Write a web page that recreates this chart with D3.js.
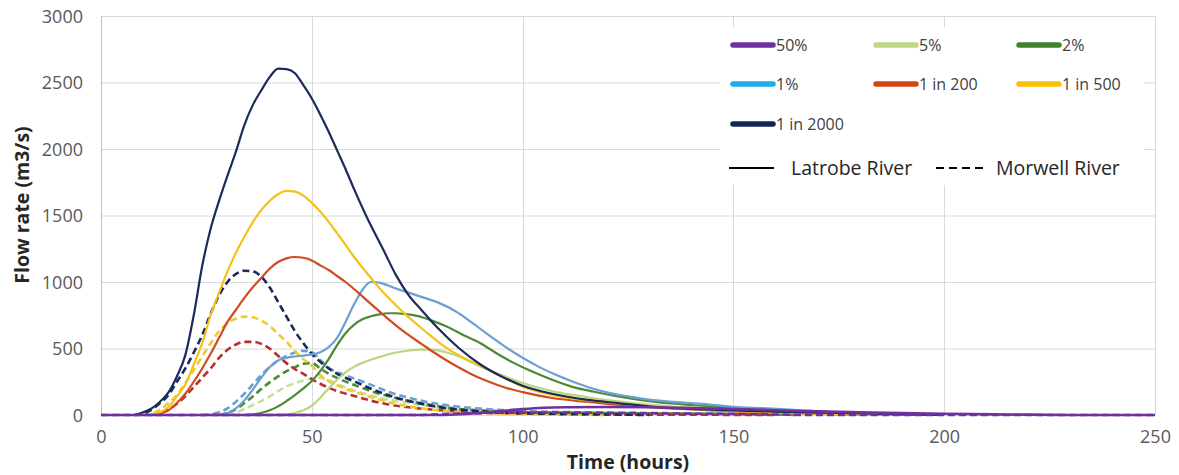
<!DOCTYPE html>
<html>
<head>
<meta charset="utf-8">
<script src="https://cdn.jsdelivr.net/npm/d3@7"></script>
<style>
  html, body { margin: 0; padding: 0; background: #ffffff; }
  svg { display: block; font-family: "Open Sans", "Noto Sans", sans-serif; }
</style>
</head>
<body>
<svg id="chart" width="1179" height="475"></svg>
<script>
// ---------- DATA ----------
const seriesLabels = ["50%", "5%", "2%", "1%", "1 in 200", "1 in 500", "1 in 2000"];
const legendColors = ["#7030a0", "#bcd98a", "#418030", "#1eaee6", "#d24514", "#f7c100", "#142458"];
const latrobeColors = ["#7030a0", "#b9d77f", "#4c8a36", "#6c9fd2", "#cf4c22", "#f3c21b", "#1b2a5c"];
const morwellColors = ["#7030a0", "#c6e09a", "#4c8a36", "#6c9fd2", "#b5302e", "#f3c833", "#1b2a5c"];
const xTicks = [0, 50, 100, 150, 200, 250];
const yTicks = [0, 500, 1000, 1500, 2000, 2500, 3000];
const riverLabels = ["Latrobe River", "Morwell River"];

// Latrobe River hydrographs [time (h), flow (m3/s)]
const lat50 = [[0,0],[80,0],[85,6],[90,15],[95,30],[100,44],[105,54],[110,58],[120,60],[130,58],[140,52],[150,45],[160,36],[170,27],[180,20],[190,14],[200,9],[215,4],[230,0],[250,0]];
const lat5 = [[40,0],[44,5],[46,15],[48,35],[50,70],[52,130],[54,200],[56,265],[58,320],[60,362],[62,392],[64,415],[66,435],[68,455],[70,470],[73,485],[76,492],[79,490],[82,470],[85,440],[88,395],[91,350],[95,300],[100,240],[107,180],[115,135],[123,100],[131,75],[140,55],[150,38],[160,25],[170,14],[180,5],[190,0]];
const lat2 = [[34,0],[36,5],[38,15],[40,35],[42,65],[44,105],[46,150],[48,200],[50,255],[52,330],[54,420],[56,525],[58,615],[60,678],[62,720],[64,742],[66,756],[68,765],[70,765],[72,760],[75,745],[78,715],[82,665],[86,600],[90,540],[94,460],[98,390],[102,330],[107,265],[112,210],[117,175],[123,138],[131,100],[140,75],[150,55],[160,38],[170,22],[180,12],[190,5],[200,0]];
const lat1 = [[26,0],[28,5],[30,15],[32,50],[34,110],[36,190],[38,280],[40,360],[42,410],[44,430],[46,440],[48,447],[50,456],[52,472],[54,510],[56,580],[58,700],[60,830],[62,940],[64,1000],[66,995],[68,975],[70,950],[73,920],[76,888],[80,845],[84,782],[88,695],[92,600],[96,510],[100,430],[104,360],[108,300],[112,250],[116,205],[120,170],[125,140],[130,115],[135,100],[142,85],[150,62],[158,50],[166,35],[175,20],[185,10],[195,0]];
const lat200 = [[12,0],[14,10],[16,35],[18,90],[20,160],[22,250],[24,350],[26,460],[28,580],[30,700],[32,790],[34,880],[36,960],[38,1030],[40,1100],[42,1150],[44,1178],[46,1188],[48,1182],[50,1162],[52,1125],[54,1090],[56,1045],[58,1000],[61,920],[64,835],[67,752],[70,672],[73,600],[76,535],[79,470],[82,410],[85,355],[88,305],[92,250],[96,205],[100,172],[107,128],[115,100],[125,70],[135,50],[145,35],[155,22],[165,12],[175,5],[185,0]];
const lat500 = [[12,0],[14,20],[16,60],[18,140],[20,230],[22,380],[24,540],[26,750],[28,920],[30,1080],[32,1220],[34,1340],[36,1450],[38,1540],[40,1610],[42,1660],[44,1685],[46,1680],[48,1650],[50,1595],[52,1530],[55,1410],[58,1280],[60,1190],[63,1070],[66,955],[69,855],[72,762],[75,680],[78,600],[81,525],[85,445],[90,370],[95,290],[100,215],[105,165],[110,132],[119,98],[128,70],[140,45],[150,30],[160,18],[170,10],[180,5],[190,0]];
const lat2000 = [[8,0],[10,20],[12,50],[14,100],[16,170],[18,290],[20,450],[22,750],[24,1120],[26,1400],[28,1610],[30,1800],[32,1980],[34,2180],[36,2330],[38,2440],[40,2540],[42,2605],[44,2600],[46,2570],[48,2480],[50,2380],[52,2260],[54,2130],[56,1990],[58,1850],[60,1700],[63,1490],[67,1240],[70,1050],[73,900],[76,790],[80,650],[85,500],[90,380],[95,290],[100,220],[107,160],[115,115],[123,88],[131,62],[140,45],[150,35],[160,25],[175,15],[190,5],[200,0]];

// Morwell River hydrographs [time (h), flow (m3/s)]
const mor50 = [[0,0],[75,0],[80,6],[90,14],[100,18],[110,18],[120,16],[130,13],[140,10],[150,7],[160,4],[170,0],[250,0]];
const mor5 = [[30,0],[32,15],[34,45],[36,75],[38,105],[40,140],[42,180],[44,215],[46,240],[48,260],[50,275],[52,280],[54,260],[57,220],[61,175],[65,140],[69,110],[73,90],[77,70],[81,53],[85,40],[90,30],[95,24],[100,20],[110,15],[120,12],[130,10],[140,8],[150,6],[160,3],[165,0]];
const mor2 = [[28,0],[30,15],[32,45],[34,90],[36,140],[38,195],[40,245],[42,290],[44,330],[46,360],[48,385],[50,390],[52,350],[54,310],[57,265],[61,215],[65,170],[69,135],[73,105],[77,82],[81,62],[85,45],[90,35],[95,28],[100,22],[110,18],[120,15],[130,12],[140,10],[150,8],[160,5],[165,0]];
const mor1 = [[24,0],[26,5],[28,20],[30,50],[32,100],[34,160],[36,230],[38,300],[40,360],[42,410],[44,445],[46,470],[48,482],[50,472],[52,415],[54,355],[57,310],[61,265],[65,215],[69,165],[73,130],[77,100],[81,78],[85,62],[90,48],[95,38],[100,30],[110,22],[120,18],[130,15],[140,12],[150,10],[160,6],[165,0]];
const mor200 = [[12,0],[14,15],[16,40],[18,85],[20,140],[22,210],[24,280],[26,350],[28,430],[30,490],[32,530],[34,550],[36,550],[38,535],[40,500],[42,445],[44,390],[46,345],[48,310],[50,270],[52,235],[54,205],[57,170],[61,135],[65,100],[69,75],[73,58],[77,45],[82,32],[88,22],[95,14],[105,8],[120,4],[140,2],[160,0]];
const mor500 = [[10,0],[12,10],[14,40],[16,90],[18,150],[20,240],[22,340],[24,440],[26,540],[28,630],[30,690],[32,725],[34,740],[36,735],[38,710],[40,670],[42,610],[44,550],[46,480],[48,420],[50,370],[52,300],[54,255],[57,210],[61,165],[65,125],[69,90],[73,65],[77,45],[82,30],[88,18],[95,10],[105,5],[120,0]];
const mor2000 = [[8,0],[10,10],[12,40],[14,90],[16,150],[18,250],[20,350],[22,470],[24,600],[26,760],[28,900],[30,1000],[32,1060],[34,1085],[36,1080],[38,1040],[40,960],[42,850],[44,740],[46,630],[48,540],[50,460],[52,400],[54,350],[56,310],[58,280],[61,240],[65,185],[69,140],[73,105],[77,78],[81,55],[85,40],[90,28],[95,20],[100,14],[110,8],[120,4],[130,0]];

const latrobe = [lat50, lat5, lat2, lat1, lat200, lat500, lat2000];
const morwell = [mor50, mor5, mor2, mor1, mor200, mor500, mor2000];

// ---------- LAYOUT ----------
const svg = d3.select("#chart");
const plot = { left: 101, right: 1155, top: 16, bottom: 415 };

const x = d3.scaleLinear().domain([0, 250]).range([plot.left, plot.right]);
const y = d3.scaleLinear().domain([0, 3000]).range([plot.bottom, plot.top]);

// gridlines
const grid = svg.append("g");
grid.selectAll(".hg").data(yTicks).enter().append("line")
  .attr("x1", plot.left).attr("x2", plot.right)
  .attr("y1", d => y(d) + 0.5).attr("y2", d => y(d) + 0.5)
  .attr("stroke", "#d9d9d9").attr("stroke-width", 1);
grid.selectAll(".vg").data(xTicks).enter().append("line")
  .attr("x1", d => Math.round(x(d)) + 0.5).attr("x2", d => Math.round(x(d)) + 0.5)
  .attr("y1", plot.top).attr("y2", plot.bottom)
  .attr("stroke", d => d === 0 ? "#bfbfbf" : "#d9d9d9").attr("stroke-width", 1);

// axes (labels only, via d3 axis generators)
const yAxis = d3.axisLeft(y).tickValues(yTicks).tickFormat(d3.format("d")).tickSize(0).tickPadding(0);
const yg = svg.append("g").attr("transform", `translate(${plot.left - 18},0)`).call(yAxis);
yg.select(".domain").remove();
yg.selectAll("text").attr("font-size", 18).attr("fill", "#595959")
  .attr("font-family", "'Open Sans', sans-serif").attr("dy", "0.36em");

const xAxis = d3.axisBottom(x).tickValues(xTicks).tickFormat(d3.format("d")).tickSize(0).tickPadding(0);
const xg = svg.append("g").attr("transform", `translate(0,${plot.bottom + 14})`).call(xAxis);
xg.select(".domain").remove();
xg.selectAll("text").attr("font-size", 18).attr("fill", "#595959")
  .attr("font-family", "'Open Sans', sans-serif").attr("dy", "0.75em");

// axis titles
svg.append("text")
  .attr("transform", `translate(29,205) rotate(-90)`)
  .attr("text-anchor", "middle").attr("font-size", 19.5).attr("font-weight", "bold")
  .attr("fill", "#262626").text("Flow rate (m3/s)");
svg.append("text")
  .attr("x", (plot.left + plot.right) / 2).attr("y", 469)
  .attr("text-anchor", "middle").attr("font-size", 19.5).attr("font-weight", "bold")
  .attr("fill", "#262626").text("Time (hours)");

// lines
const line = d3.line().x(d => x(d[0])).y(d => y(d[1])).curve(d3.curveMonotoneX);
const lines = svg.append("g").attr("fill", "none").attr("stroke-linejoin", "round");

// Morwell (dashed)
[1,2,3,4,5,6].forEach(i => {
  lines.append("path").attr("d", line(morwell[i]))
    .attr("stroke", morwellColors[i]).attr("stroke-width", 2.6)
    .attr("stroke-dasharray", "7,4");
});
// Latrobe (solid)
[1,2,3,4,5,6].forEach(i => {
  lines.append("path").attr("d", line(latrobe[i]))
    .attr("stroke", latrobeColors[i]).attr("stroke-width", 2.2);
});
// 50% series drawn last (runs along the base)
lines.append("path").attr("d", line(morwell[0]))
  .attr("stroke", morwellColors[0]).attr("stroke-width", 2.6).attr("stroke-dasharray", "7,4");
lines.append("path").attr("d", line(latrobe[0]))
  .attr("stroke", latrobeColors[0]).attr("stroke-width", 2.6);

// ---------- LEGEND ----------
const lg = svg.append("g");
lg.append("rect").attr("x", 720).attr("y", 27).attr("width", 424).attr("height", 158).attr("fill", "#ffffff");
const colX = [731, 874, 1017];
const rowY = [45, 84, 124];
seriesLabels.forEach((lab, i) => {
  const cx = colX[i % 3], cy = rowY[Math.floor(i / 3)];
  lg.append("line").attr("x1", cx + 2).attr("x2", cx + 42).attr("y1", cy).attr("y2", cy)
    .attr("stroke", legendColors[i]).attr("stroke-width", 5.5).attr("stroke-linecap", "round");
  lg.append("text").attr("x", cx + 45).attr("y", cy).attr("dy", "0.36em")
    .attr("font-size", 16).attr("fill", "#404040").text(lab);
});
// line style legend
lg.append("line").attr("x1", 729).attr("x2", 774).attr("y1", 168).attr("y2", 168)
  .attr("stroke", "#000").attr("stroke-width", 2.2);
lg.append("text").attr("x", 791).attr("y", 168).attr("dy", "0.36em")
  .attr("font-size", 19.5).attr("fill", "#262626").text(riverLabels[0]);
lg.append("line").attr("x1", 936).attr("x2", 983).attr("y1", 168).attr("y2", 168)
  .attr("stroke", "#000").attr("stroke-width", 2.2).attr("stroke-dasharray", "8,5");
lg.append("text").attr("x", 996).attr("y", 168).attr("dy", "0.36em")
  .attr("font-size", 19.5).attr("fill", "#262626").text(riverLabels[1]);
</script>
</body>
</html>
